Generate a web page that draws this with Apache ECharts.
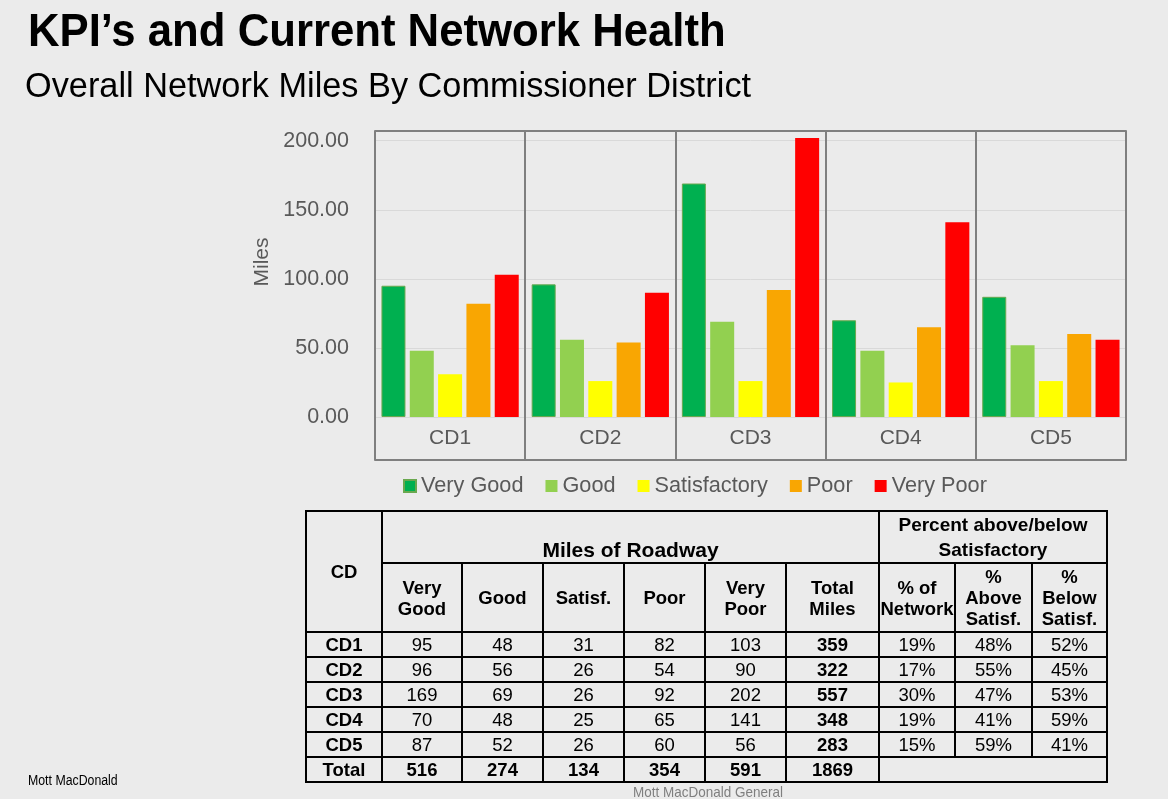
<!DOCTYPE html>
<html><head><meta charset="utf-8">
<script src="https://cdn.jsdelivr.net/npm/echarts@6/dist/echarts.min.js"></script>
<style>
html,body{margin:0;padding:0;background:#ebebeb;width:1168px;height:799px;overflow:hidden;font-family:'Liberation Sans',Arial,sans-serif;}
#chart{position:absolute;left:0;top:0;width:1168px;height:799px;}
#title{position:absolute;left:28px;top:7px;font-size:46px;font-weight:bold;color:#000;white-space:nowrap;transform-origin:0 0;transform:scaleX(0.95);line-height:1;}
#subtitle{position:absolute;left:25px;top:68px;font-size:34.3px;color:#000;white-space:nowrap;transform-origin:0 0;line-height:1;}
#tbl{position:absolute;left:305px;top:510px;border-collapse:collapse;font-size:18.5px;color:#000;table-layout:fixed;}
#tbl td{border:2px solid #000;text-align:center;padding:0;line-height:21px;}
#tbl td.b{font-weight:bold;}
#foot1{position:absolute;left:28px;top:772px;font-size:14px;color:#000;transform-origin:0 0;transform:scaleX(0.88);}
#foot2{position:absolute;left:633px;top:784px;font-size:14.5px;color:#7f7f7f;transform-origin:0 0;transform:scaleX(0.93);}
</style></head>
<body>
<div id="chart"></div>
<div id="title">KPI’s and Current Network Health</div>
<div id="subtitle">Overall Network Miles By Commissioner District</div>
<table id="tbl"></table>
<div id="foot1">Mott MacDonald</div>
<div id="foot2">Mott MacDonald General</div>
<script>
const categories = ['CD1', 'CD2', 'CD3', 'CD4', 'CD5'];
const seriesNames = ['Very Good', 'Good', 'Satisfactory', 'Poor', 'Very Poor'];
const veryGood = [95, 96, 169, 70, 87];
const good = [48, 56, 69, 48, 52];
const satisf = [31, 26, 26, 25, 26];
const poor = [82, 54, 92, 65, 60];
const veryPoor = [103, 90, 202, 141, 56];
const totalMiles = [359, 322, 557, 348, 283];
const pctNetwork = ['19%', '17%', '30%', '19%', '15%'];
const pctAbove = ['48%', '55%', '47%', '41%', '59%'];
const pctBelow = ['52%', '45%', '53%', '59%', '41%'];
const columnTotals = [516, 274, 134, 354, 591, 1869];
const totalLabel = 'Total';

const seriesColors = ['#00B050', '#92D050', '#FFFF00', '#F9A602', '#FF0000'];
const seriesData = [veryGood, good, satisf, poor, veryPoor];

// ---- table ----
const colWidths = [76, 80, 81, 81, 81, 81, 93, 76, 77, 75];
let html = '<colgroup>' + colWidths.map(w => '<col style="width:' + w + 'px">').join('') + '</colgroup>';
html += '<tr style="height:52px"><td class="b" rowspan="2" style="vertical-align:middle">CD</td>' +
  '<td class="b" colspan="6" style="vertical-align:bottom;font-size:21px;padding-bottom:2px">Miles of Roadway</td>' +
  '<td class="b" colspan="3" style="line-height:25px;font-size:19px">Percent above/below<br>Satisfactory</td></tr>';
const hdr2 = ['Very<br>Good', 'Good', 'Satisf.', 'Poor', 'Very<br>Poor', 'Total<br>Miles', '% of<br>Network', '%<br>Above<br>Satisf.', '%<br>Below<br>Satisf.'];
html += '<tr style="height:69px">' + hdr2.map(h => '<td class="b">' + h + '</td>').join('') + '</tr>';
for (let i = 0; i < categories.length; i++) {
  html += '<tr style="height:25px"><td class="b">' + categories[i] + '</td>' +
    '<td>' + veryGood[i] + '</td><td>' + good[i] + '</td><td>' + satisf[i] + '</td><td>' + poor[i] + '</td><td>' + veryPoor[i] + '</td>' +
    '<td class="b">' + totalMiles[i] + '</td><td>' + pctNetwork[i] + '</td><td>' + pctAbove[i] + '</td><td>' + pctBelow[i] + '</td></tr>';
}
html += '<tr style="height:25px"><td class="b">' + totalLabel + '</td>' + columnTotals.map(v => '<td class="b">' + v + '</td>').join('') + '<td colspan="3"></td></tr>';
document.getElementById('tbl').innerHTML = html;

// ---- chart ----
const axisGray = '#7f7f7f';
const textGray = '#595959';
const chart = echarts.init(document.getElementById('chart'), null, {renderer: 'canvas'});
chart.setOption({
  animation: false,
  backgroundColor: 'transparent',
  textStyle: {fontFamily: "'Liberation Sans', Arial, sans-serif"},
  grid: [
    {left: 375, right: 42, top: 131, height: 286},
    {left: 375, right: 42, top: 417, height: 43}
  ],
  legend: {
    left: 398, top: 470, itemWidth: 12, itemHeight: 12, itemGap: 22, icon: 'rect',
    selectedMode: false,
    textStyle: {fontSize: 21.7, color: textGray},
    data: seriesNames
  },
  xAxis: [
    {type: 'category', gridIndex: 0, data: categories, position: 'bottom',
      axisLine: {show: false}, axisTick: {show: false}, axisLabel: {show: false},
      splitLine: {show: true, lineStyle: {color: axisGray, width: 2}}},
    {type: 'category', gridIndex: 0, data: categories, position: 'top',
      axisLine: {show: true, lineStyle: {color: axisGray, width: 2}}, axisTick: {show: false},
      axisLabel: {show: false}, splitLine: {show: false}},
    {type: 'category', gridIndex: 1, data: categories, position: 'bottom',
      axisLine: {show: true, lineStyle: {color: axisGray, width: 2}}, axisTick: {show: false},
      axisLabel: {inside: true, margin: 11, fontSize: 21, color: textGray},
      splitLine: {show: true, lineStyle: {color: axisGray, width: 2}}}
  ],
  yAxis: [
    {type: 'value', gridIndex: 0, min: 0, max: 207, interval: 50,
      name: 'Miles', nameLocation: 'middle', nameGap: 92,
      nameTextStyle: {fontSize: 21, color: textGray, padding: [0, 0, 0, 24]},
      axisLine: {show: false}, axisTick: {show: false},
      axisLabel: {fontSize: 21.5, color: textGray, margin: 26, showMaxLabel: false,
        formatter: v => v.toFixed(2)},
      splitLine: {show: true, lineStyle: {color: '#d9d9d9', width: 1}}},
    {type: 'value', gridIndex: 1, show: false, min: 0, max: 1}
  ],
  series: seriesNames.map((name, k) => ({
    name: name, type: 'bar', xAxisIndex: 0, yAxisIndex: 0,
    data: seriesData[k], barWidth: 24, barGap: '18%',
    itemStyle: k === 0 ? {color: seriesColors[k], borderColor: '#6aa84f', borderWidth: 1} : {color: seriesColors[k]}
  }))
});
</script>
</body></html>
